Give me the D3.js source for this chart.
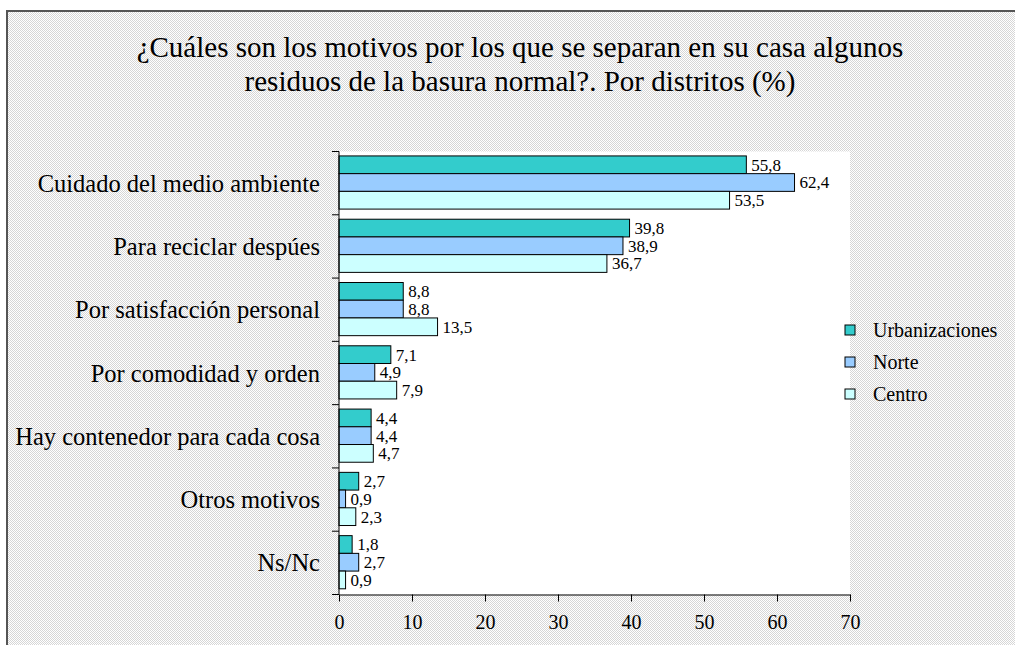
<!DOCTYPE html>
<html>
<head>
<meta charset="utf-8">
<script src="https://cdn.jsdelivr.net/npm/d3@7"></script>
<style>
  body { margin: 0; background: #fff; }
  text { font-family: "Liberation Serif", "Times New Roman", serif; fill: #000; }
</style>
</head>
<body>
<svg id="chart" width="1015" height="645"></svg>
<script>
// categories (top to bottom) and the three district series
var categories = ["Cuidado del medio ambiente", "Para reciclar despúes", "Por satisfacción personal",
  "Por comodidad y orden", "Hay contenedor para cada cosa", "Otros motivos", "Ns/Nc"];
var seriesNames = ["Urbanizaciones", "Norte", "Centro"];
var urbanizaciones = [55.8, 39.8, 8.8, 7.1, 4.4, 2.7, 1.8];
var norte = [62.4, 38.9, 8.8, 4.9, 4.4, 0.9, 2.7];
var centro = [53.5, 36.7, 13.5, 7.9, 4.7, 2.3, 0.9];
var xTicks = [0, 10, 20, 30, 40, 50, 60, 70];
var titleLines = ["¿Cuáles son los motivos por los que se separan en su casa algunos",
  "residuos de la basura normal?. Por distritos (%)"];

var colors = ["#33cccc", "#99ccff", "#ccffff"];
var seriesValues = [urbanizaciones, norte, centro];
var serif = "'Liberation Serif', 'Times New Roman', serif";

var svg = d3.select("#chart");

// dithered grey background like the original
var defs = svg.append("defs");
var pat = defs.append("pattern")
  .attr("id", "dither")
  .attr("width", 2).attr("height", 2)
  .attr("patternUnits", "userSpaceOnUse");
pat.append("rect").attr("width", 2).attr("height", 2).attr("fill", "#ffffff");
pat.append("rect").attr("x", 0).attr("y", 0).attr("width", 1).attr("height", 1).attr("fill", "#d6d6d6");
pat.append("rect").attr("x", 1).attr("y", 1).attr("width", 1).attr("height", 1).attr("fill", "#d6d6d6");

svg.append("rect")
  .attr("x", 7).attr("y", 11)
  .attr("width", 1020).attr("height", 650)
  .attr("fill", "url(#dither)")
  .attr("stroke", "#555").attr("stroke-width", 2);

// title
svg.append("g").selectAll("text")
  .data(titleLines)
  .join("text")
  .attr("x", 520)
  .attr("y", function(d, i) { return 57 + i * 34; })
  .attr("text-anchor", "middle")
  .style("font-family", serif)
  .style("font-size", "29px")
  .text(function(d) { return d; });

// scales
var x = d3.scaleLinear().domain([0, 70]).range([339, 850]);
var y = d3.scaleBand().domain(categories).range([151.5, 594.5]).padding(0);
var inner = d3.scaleBand().domain(seriesNames)
  .range([y.bandwidth() * 0.07, y.bandwidth() * 0.91]).padding(0);

// white plot area
svg.append("rect")
  .attr("x", x(0)).attr("y", y.range()[0])
  .attr("width", x(70) - x(0)).attr("height", y.range()[1] - y.range()[0])
  .attr("fill", "#fff");

// bars
var groups = svg.append("g").selectAll("g")
  .data(categories)
  .join("g")
  .attr("transform", function(d) { return "translate(0," + y(d) + ")"; });

seriesNames.forEach(function(s, si) {
  groups.append("rect")
    .attr("x", x(0))
    .attr("y", inner(s))
    .attr("width", function(d, i) { return x(seriesValues[si][i]) - x(0); })
    .attr("height", inner.bandwidth())
    .attr("fill", colors[si])
    .attr("stroke", "#000")
    .attr("stroke-width", 1);

  groups.append("text")
    .attr("x", function(d, i) { return x(seriesValues[si][i]) + 5; })
    .attr("y", inner(s) + inner.bandwidth() / 2)
    .attr("dy", "0.35em")
    .style("font-family", serif)
    .style("font-size", "17px")
    .text(function(d, i) { return String(seriesValues[si][i]).replace(".", ","); });
});

// x axis
var xAxis = svg.append("g")
  .attr("transform", "translate(0," + y.range()[1] + ")")
  .call(d3.axisBottom(x).tickValues(xTicks).tickSize(7).tickPadding(13).tickSizeOuter(0));
xAxis.selectAll("text").style("font-size", "20px").style("font-family", serif);
xAxis.selectAll("line, path").attr("stroke", "#000");

// y axis: line, ticks at band edges, labels at band centres
var yAxis = svg.append("g");
yAxis.append("line")
  .attr("x1", x(0)).attr("x2", x(0))
  .attr("y1", y.range()[0]).attr("y2", y.range()[1])
  .attr("stroke", "#000");
yAxis.selectAll(".ytick")
  .data(categories.concat(["end"]))
  .join("line")
  .attr("class", "ytick")
  .attr("x1", x(0) - 7).attr("x2", x(0))
  .attr("y1", function(d) { return d === "end" ? y.range()[1] : y(d); })
  .attr("y2", function(d) { return d === "end" ? y.range()[1] : y(d); })
  .attr("stroke", "#000");
yAxis.selectAll(".ylabel")
  .data(categories)
  .join("text")
  .attr("class", "ylabel")
  .attr("x", 320)
  .attr("y", function(d) { return y(d) + y.bandwidth() / 2; })
  .attr("dy", "0.35em")
  .attr("text-anchor", "end")
  .style("font-family", serif)
  .style("font-size", "24.5px")
  .text(function(d) { return d; });

// legend
var legend = svg.append("g").selectAll("g")
  .data(seriesNames)
  .join("g")
  .attr("transform", function(d, i) { return "translate(845," + (330 + i * 32) + ")"; });
legend.append("rect")
  .attr("x", 0).attr("y", -5)
  .attr("width", 10).attr("height", 10)
  .attr("fill", function(d, i) { return colors[i]; })
  .attr("stroke", "#000");
legend.append("text")
  .attr("x", 28)
  .attr("dy", "0.35em")
  .style("font-family", serif)
  .style("font-size", "20px")
  .text(function(d) { return d; });
</script>
</body>
</html>
